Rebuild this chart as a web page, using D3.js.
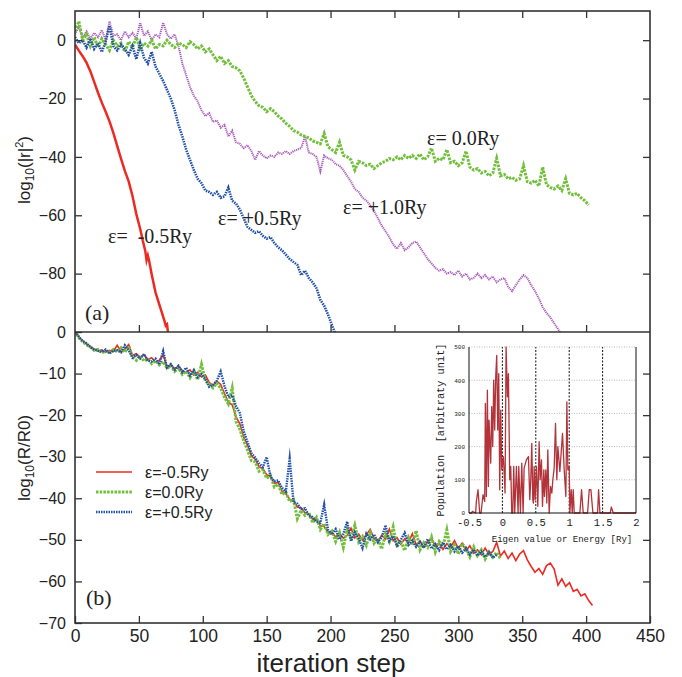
<!DOCTYPE html>
<html><head><meta charset="utf-8">
<script src="https://cdn.jsdelivr.net/npm/d3@7"></script>
<style>
html,body{margin:0;padding:0;background:#fff;}
svg{display:block;}
</style></head>
<body>
<svg id="chart" width="682" height="677"></svg>
<script>
// ---------------- DATA ----------------
const xTicks = [0,50,100,150,200,250,300,350,400,450];
const yTopTicks = [0,-20,-40,-60,-80];
const yBotTicks = [0,-10,-20,-30,-40,-50,-60,-70];
const STEP = 3; // sampling interval (iteration steps) of the arrays below

// (a) log10(|r|^2)
const topRed = [[0,-1.5],[3,-3.6],[6,-5.5],[9,-7.7],[12,-10.6],[15,-14.3],[18,-18],[21,-21.4],[24,-24.5],[27,-27.8],[30,-31.8],[33,-36.2],[36,-40.6],[39,-44.8],[42,-48.4],[45,-53.4],[48,-59.6],[51,-64.6],[53,-68.6],[55,-72.2],[56,-75.4],[57,-73.8],[58,-75.6],[60,-80.2],[63,-86.4],[66,-90.6],[68,-93.4],[70,-96.2],[71,-97.8],[72,-97.4],[73,-101]];
const topGreen = [3,6.5,0,2,-2,1,-2.5,0.5,-1.5,-3.5,0,-2,-1,-4,-0.5,-2.5,1,-3,-1,-2,0,-3,-1.5,-2,0,-1.5,-2.5,-1,-1.5,-2.5,-0.5,-1.5,-3,-2,-4,-3,-5,-7,-5.5,-8,-7,-9,-9.5,-10.5,-13,-16,-19,-21,-22.5,-23,-24.5,-23.5,-24.5,-26,-27,-28.5,-29.5,-31,-31.5,-32.5,-33,-33.5,-34.5,-35,-35.5,-32,-36.5,-37.5,-38.5,-35,-39.5,-40,-41,-44.5,-41.5,-42,-43,-42.5,-44,-43,-42,-41.5,-40.5,-41,-40,-41,-39.5,-40.5,-39.5,-40.5,-39,-41,-40,-37,-41.5,-40.5,-41,-37.5,-42,-41.5,-43,-42,-38,-43.5,-44.5,-44,-45.5,-45,-46.5,-45.5,-40.5,-46.5,-46,-47.5,-47,-48,-47.5,-43,-48.5,-49,-48,-50,-43.5,-49.5,-50.5,-51,-50,-51.5,-47.5,-52.5,-53,-52.5,-54,-55,-56.5];
const topBlue = [1,-1,0,-2.5,0.5,-3,-1,-4,-0.5,5,-2,-3.5,-1.5,-3,-5,-2,-6.5,-1,-6,-8,-4,-9,-11.5,-14,-17,-20,-24,-29,-33,-37.5,-41,-44.5,-47.5,-49,-51.5,-52,-53,-52,-54,-53.5,-50.5,-55,-56,-58,-61,-64,-65,-66,-65.5,-67,-68,-67.5,-69.5,-71,-72,-73.5,-75,-76,-77,-80.5,-79,-81.5,-83,-85,-89,-91,-94,-97.5,-101];
const topPurple = [2,4.5,1,3,0.5,2.5,1,3.5,0,6.5,1.5,2,0,3,1,2.5,0.5,6,1.5,3,0,2,1,6,2,0.5,2,-2,-8,-12,-16,-19,-21,-24,-26,-25,-28,-27.5,-30,-29,-33,-31,-35,-35.5,-37,-36,-38,-41,-38,-39.5,-40.5,-39.5,-40,-38.5,-39,-38,-39,-38,-37.5,-37,-33,-38.5,-39,-40,-45,-39.5,-40.5,-41,-42.5,-43,-44.5,-46.5,-48.5,-51,-52,-54,-55,-56.5,-58.5,-61,-63.5,-65.5,-67.5,-70,-71.5,-69.5,-72,-71,-69.5,-69,-71,-73,-75,-76.5,-78,-79,-78.5,-80,-79.5,-80.5,-79,-81,-80,-82,-81.5,-80,-81.5,-80.5,-82,-81,-83,-82,-81.5,-84.5,-86,-84,-82,-80.5,-81.5,-84,-86,-88.5,-91.5,-93.5,-95,-97,-99,-101];

// (b) log10(R/R0)
const botRed = [0,-1.2,-2.1,-2.9,-3.4,-4.1,-4.6,-4.3,-4.9,-4.4,-4.7,-3.2,-4.8,-4.1,-3,-5.6,-5.2,-6.1,-5.5,-6.6,-6.2,-7.3,-6.8,-5.5,-8.4,-7.9,-8.9,-8.2,-9.3,-9.8,-9.1,-10.4,-9.7,-10.8,-10.3,-12.1,-12.9,-11.8,-12.6,-14.8,-16.9,-17.5,-20.4,-22.1,-25.3,-27.2,-29.8,-30.6,-32.4,-32.9,-34.3,-34.8,-36.4,-36.2,-38.3,-38.9,-40.2,-40.6,-42.1,-42.3,-43.5,-43.8,-45.1,-45.2,-46.6,-46.8,-48.1,-48.2,-49.3,-48.4,-49.6,-48.9,-47.2,-49.5,-48.6,-50.1,-48.8,-47.5,-49.7,-50.4,-48.9,-49.8,-47.4,-50.2,-49.5,-51,-49.8,-50.6,-48.5,-51.2,-50.3,-51.8,-50.6,-49.7,-51.5,-50.8,-52.3,-50.9,-51.7,-50.2,-52.1,-50.8,-52.6,-51.4,-53.2,-52.4,-53.6,-52,-53.5,-52.8,-50.6,-53.9,-52.7,-54.5,-53.2,-55,-53.4,-52.6,-54.8,-56.4,-57.8,-56.9,-58.3,-56.2,-55.6,-57,-60.9,-59.4,-61.2,-60.3,-62.4,-61.9,-63.5,-63,-64.6,-65.8];
const botGreen = [0.3,-1.4,-2.3,-3.1,-3.6,-4.4,-4.2,-5,-4.6,-4.9,-4.2,-4.8,-3.8,-4.9,-3.4,-6,-6.8,-5.7,-7,-6.5,-7.6,-6.9,-7.9,-7.1,-8.8,-8.1,-9.5,-8.6,-10.2,-9.4,-11,-9.3,-11.5,-7.8,-11.8,-12.5,-13.4,-12.3,-13.5,-15.7,-17.3,-13.5,-21.5,-23.4,-26.1,-28.4,-30.9,-31.2,-33.5,-33.1,-35.2,-34.5,-37.3,-36.6,-39.1,-38.5,-40.8,-40.3,-44.9,-42.9,-44.1,-43.4,-45.9,-44.6,-47.5,-46.1,-48.7,-47.9,-50.4,-48.2,-51.8,-47.6,-49.8,-46.5,-50.5,-49.2,-51.3,-48.3,-50.8,-49.6,-52.2,-48.6,-50.4,-46.9,-51.7,-50.2,-52.6,-49.4,-51.3,-47.8,-52.4,-50.7,-51.8,-49.3,-52.9,-50.4,-51.5,-47.6,-52.8,-51.2,-53.4,-50.9,-52.2,-54.1,-51.7,-53.8,-52.4,-54.6,-52.9,-54.2,-53,-54.5];
const botBlue = [0,-1.1,-2.2,-2.7,-3.7,-4.2,-4.5,-4.8,-4.2,-5.2,-4.5,-4.4,-4.9,-3.2,-4.4,-6.2,-5.5,-6.4,-5.3,-6.9,-7.1,-6.4,-7.8,-4.6,-8.6,-7.7,-9.1,-8.1,-9.7,-8.6,-10.5,-9.2,-10.9,-10.1,-11.3,-13.2,-12.7,-11.7,-9.5,-13,-15.6,-15.2,-17.8,-19.5,-23.8,-26.5,-29.1,-30.2,-31.6,-32.5,-30.1,-34.8,-35.9,-35.7,-37.5,-38.4,-30.5,-40.9,-41.3,-42.6,-42.4,-44.2,-44.5,-45.6,-45.9,-41.5,-47.6,-48.7,-47.4,-49.9,-48.6,-45.6,-50.3,-48.2,-49.6,-52,-48.5,-49.9,-48.7,-50.6,-49.4,-46.5,-50.3,-49.1,-51.4,-50,-48.3,-51.2,-50.1,-51.7,-50.5,-51.9,-49.8,-52.1,-51,-52.5,-50.6,-52.3,-51.2,-52.8,-51.5,-53.1,-52,-53.5,-52.3,-53.8,-52.8,-54.1,-53,-54.3,-53.6];

// inset: population vs eigen value
const insetE   = [-0.5,-0.46,-0.45,-0.4,-0.39,-0.365,-0.34,-0.32,-0.29,-0.265,-0.255,-0.24,-0.225,-0.21,-0.2,-0.175,-0.16,-0.145,-0.13,-0.115,-0.1,-0.085,-0.07,-0.055,-0.04,-0.025,-0.01,0.015,0.04,0.055,0.075,0.09,0.11,0.125,0.14,0.155,0.17,0.185,0.21,0.235,0.245,0.27,0.29,0.31,0.325,0.36,0.39,0.41,0.425,0.44,0.455,0.465,0.475,0.49,0.51,0.53,0.55,0.565,0.585,0.6,0.62,0.63,0.65,0.665,0.68,0.7,0.72,0.74,0.755,0.775,0.795,0.815,0.83,0.86,0.9,0.925,0.95,0.965,0.98,1.0,1.01,1.03,1.045,1.06,1.075,1.09,1.11,1.13,1.16,1.185,1.21,1.25,1.275,1.3,1.325,1.355,1.41,1.425,1.44,1.46,1.5,1.6,1.615,1.63,1.66,1.83,1.85,1.86,2.0];
const insetPop = [0,0,5,0,35,70,0,0,55,35,330,50,370,80,280,150,320,200,400,250,410,475,250,420,70,310,130,170,60,500,350,420,100,140,0,0,140,0,140,0,140,0,150,0,135,160,170,40,100,210,40,30,140,40,140,20,215,100,160,20,130,50,130,30,190,0,80,60,100,135,270,100,200,125,240,130,50,335,130,140,0,70,0,70,0,0,0,0,0,70,0,0,0,70,70,0,0,0,70,0,0,0,0,18,0,0,0,0,0];
const insetXTicks = [-0.5,0,0.5,1,1.5,2];
const insetYTicks = [0,100,200,300,400,500];
const insetVLines = [0,0.5,1,1.5];

// ---------------- DRAW ----------------
const svg = d3.select("#chart");
const L = 75, R = 650, T = 11, MID = 332, B = 623;
const x = d3.scaleLinear().domain([0,450]).range([L,R]);
const yTop = d3.scaleLinear().domain([-100,10]).range([MID,T]);
const yBot = d3.scaleLinear().domain([-70,0]).range([B,MID]);

const defs = svg.append("defs");
defs.append("clipPath").attr("id","clipTop").append("rect").attr("x",L).attr("y",T).attr("width",R-L).attr("height",MID-T);
defs.append("clipPath").attr("id","clipBot").append("rect").attr("x",L).attr("y",MID).attr("width",R-L).attr("height",B-MID);

const C = {red:"#ec2a24", green:"#72bf3c", blue:"#1f4fa6", purple:"#a95cba"};
const toPts = arr => arr.map((v,i)=>[i*STEP,v]);

function drawLine(g, pts, yS, color, w, dash){
  g.append("path").datum(pts)
    .attr("d", d3.line().x(d=>x(d[0])).y(d=>yS(d[1])))
    .attr("fill","none").attr("stroke",color).attr("stroke-width",w)
    .attr("stroke-linejoin","miter").attr("stroke-miterlimit",10)
    .attr("stroke-dasharray",dash||null);
}

// top panel
const gTop = svg.append("g").attr("clip-path","url(#clipTop)");
drawLine(gTop, toPts(topPurple), yTop, C.purple, 2, "1.2,0.8");
drawLine(gTop, toPts(topGreen), yTop, C.green, 3, "2.5,1.2");
drawLine(gTop, toPts(topBlue), yTop, C.blue, 2.6, "1.5,1");
drawLine(gTop, topRed, yTop, C.red, 2.5, null);

// bottom panel
const gBot = svg.append("g").attr("clip-path","url(#clipBot)");
drawLine(gBot, toPts(botRed), yBot, C.red, 1.6, null);
drawLine(gBot, toPts(botGreen), yBot, C.green, 3, "2.5,1.2");
drawLine(gBot, toPts(botBlue), yBot, C.blue, 2.4, "1.5,1");

// axes
const tickFont = "Liberation Sans, Arial, sans-serif";
function styleAxis(g, fs){
  g.select(".domain").remove();
  g.selectAll(".tick line").attr("stroke","#333").attr("stroke-width",1.3);
  g.selectAll(".tick text").attr("font-family",tickFont).attr("font-size",fs).attr("fill","#222");
}
const TK = 7;
styleAxis(svg.append("g").attr("transform",`translate(0,${B})`)
  .call(d3.axisBottom(x).tickValues(xTicks).tickSizeInner(-TK).tickSizeOuter(0).tickPadding(7)), 17.5);
styleAxis(svg.append("g").attr("transform",`translate(0,${MID})`)
  .call(d3.axisBottom(x).tickValues(xTicks.slice(1,-1)).tickSizeInner(-TK).tickSizeOuter(0).tickFormat("")), 0);
styleAxis(svg.append("g").attr("transform",`translate(0,${T})`)
  .call(d3.axisTop(x).tickValues(xTicks.slice(1,-1)).tickSizeInner(-TK).tickSizeOuter(0).tickFormat("")), 0);
styleAxis(svg.append("g").attr("transform",`translate(${L},0)`)
  .call(d3.axisLeft(yTop).tickValues(yTopTicks).tickSizeInner(-TK).tickSizeOuter(0).tickPadding(9)), 16);
styleAxis(svg.append("g").attr("transform",`translate(${R},0)`)
  .call(d3.axisRight(yTop).tickValues(yTopTicks).tickSizeInner(-TK).tickSizeOuter(0).tickFormat("")), 0);
styleAxis(svg.append("g").attr("transform",`translate(${L},0)`)
  .call(d3.axisLeft(yBot).tickValues(yBotTicks).tickSizeInner(-TK).tickSizeOuter(0).tickPadding(9)), 16);
styleAxis(svg.append("g").attr("transform",`translate(${R},0)`)
  .call(d3.axisRight(yBot).tickValues(yBotTicks.slice(1,-1)).tickSizeInner(-TK).tickSizeOuter(0).tickFormat("")), 0);

// frame
const fr = svg.append("g").attr("stroke","#333").attr("stroke-width",1.6).attr("fill","none");
fr.append("rect").attr("x",L).attr("y",T).attr("width",R-L).attr("height",B-T);
fr.append("line").attr("x1",L).attr("x2",R).attr("y1",MID).attr("y2",MID);

// axis titles
svg.append("text").attr("x",331).attr("y",672).attr("text-anchor","middle")
  .attr("font-family",tickFont).attr("font-size",26).attr("fill","#222").text("iteration step");

function yTitle(cx, cy, parts){
  const t = svg.append("text").attr("transform",`translate(${cx},${cy}) rotate(-90)`)
    .attr("text-anchor","middle").attr("font-family",tickFont).attr("font-size",17).attr("fill","#222");
  parts.forEach(p=>{
    const s = t.append("tspan").text(p.t);
    if(p.sub){ s.attr("font-size",12).attr("dy",4); }
    if(p.sup){ s.attr("font-size",11).attr("dy",-7); }
    if(p.back){ s.attr("dy",p.back); }
  });
}
yTitle(30,170,[{t:"log"},{t:"10",sub:true},{t:"(|r|",back:-4},{t:"2",sup:true},{t:")",back:7}]);
yTitle(30,458,[{t:"log"},{t:"10",sub:true},{t:"(R/R0)",back:-4}]);

// annotations (a)
const serif = "Liberation Serif, Times New Roman, serif";
const ann = [
  {t:"ε=  -0.5Ry", x:108, y:243},
  {t:"ε= +0.5Ry", x:218, y:225},
  {t:"ε= +1.0Ry", x:343, y:214},
  {t:"ε= 0.0Ry",  x:427, y:145}
];
ann.forEach(a=>svg.append("text").attr("x",a.x).attr("y",a.y).attr("font-family",serif)
  .attr("font-size",20).attr("fill","#222").style("white-space","pre").text(a.t));
svg.append("text").attr("x",85).attr("y",320).attr("font-family",serif).attr("font-size",22).attr("fill","#222").text("(a)");
svg.append("text").attr("x",86).attr("y",605).attr("font-family",serif).attr("font-size",22).attr("fill","#222").text("(b)");

// legend (b)
const legend = [
  {t:"ε=-0.5Ry", c:C.red, w:1.6, d:null},
  {t:"ε=0.0Ry", c:C.green, w:3, d:"2.5,1.2"},
  {t:"ε=+0.5Ry", c:C.blue, w:2.4, d:"1.5,1"}
];
legend.forEach((l,i)=>{
  const yy = 472 + i*20;
  svg.append("line").attr("x1",96).attr("x2",132).attr("y1",yy).attr("y2",yy)
    .attr("stroke",l.c).attr("stroke-width",l.w).attr("stroke-dasharray",l.d);
  svg.append("text").attr("x",145).attr("y",yy+6).attr("font-family",tickFont).attr("font-size",16)
    .attr("fill","#222").text(l.t);
});

// ---------------- INSET ----------------
const xi = d3.scaleLinear().domain([-0.5,2]).range([469,636]);
const yi = d3.scaleLinear().domain([0,500]).range([513,347]);
const gi = svg.append("g");
gi.selectAll("line.h").data(insetYTicks.slice(1)).join("line")
  .attr("x1",xi(-0.5)).attr("x2",xi(2)).attr("y1",d=>yi(d)).attr("y2",d=>yi(d))
  .attr("stroke","#aaa").attr("stroke-width",0.8).attr("stroke-dasharray","1,1.5");
gi.selectAll("line.v").data(insetVLines).join("line")
  .attr("x1",d=>xi(d)).attr("x2",d=>xi(d)).attr("y1",yi(0)).attr("y2",yi(500))
  .attr("stroke","#111").attr("stroke-width",1).attr("stroke-dasharray","2,1.5");
gi.append("path").datum(insetE.map((e,i)=>[e,insetPop[i]]))
  .attr("d", d3.line().x(d=>xi(d[0])).y(d=>yi(d[1])))
  .attr("fill","none").attr("stroke","#b3333a").attr("stroke-width",1.3).attr("stroke-linejoin","round");
gi.append("line").attr("x1",xi(-0.5)).attr("x2",xi(-0.5)).attr("y1",yi(0)).attr("y2",yi(500)).attr("stroke","#111").attr("stroke-width",1);
gi.append("line").attr("x1",xi(2)).attr("x2",xi(2)).attr("y1",yi(0)).attr("y2",yi(500)).attr("stroke","#111").attr("stroke-width",1);
gi.append("line").attr("x1",xi(-0.5)).attr("x2",xi(2)).attr("y1",yi(0)).attr("y2",yi(0)).attr("stroke","#111").attr("stroke-width",1);
const mono = "Liberation Mono, DejaVu Sans Mono, monospace";
const gix = gi.append("g").attr("transform",`translate(0,${yi(0)})`)
  .call(d3.axisBottom(xi).tickValues(insetXTicks).tickSize(0).tickPadding(6).tickFormat(d=>String(d)));
gix.select(".domain").remove();
gix.selectAll("text").attr("font-family",mono).attr("font-size",10.5).attr("fill","#222");
const giy = gi.append("g").attr("transform",`translate(${xi(-0.5)},0)`)
  .call(d3.axisLeft(yi).tickValues(insetYTicks).tickSize(0).tickPadding(4));
giy.select(".domain").remove();
giy.selectAll("text").attr("font-family",mono).attr("font-size",6).attr("fill","#222");
gi.append("text").attr("x",562).attr("y",542).attr("text-anchor","middle").attr("font-family",mono)
  .attr("font-size",9).attr("fill","#222").text("Eigen value or Energy [Ry]");
gi.append("text").attr("transform","translate(444,430) rotate(-90)").attr("text-anchor","middle")
  .attr("font-family",mono).attr("font-size",10.3).attr("fill","#222").style("white-space","pre")
  .text("Population  [arbitraty unit]");
</script>
</body></html>
